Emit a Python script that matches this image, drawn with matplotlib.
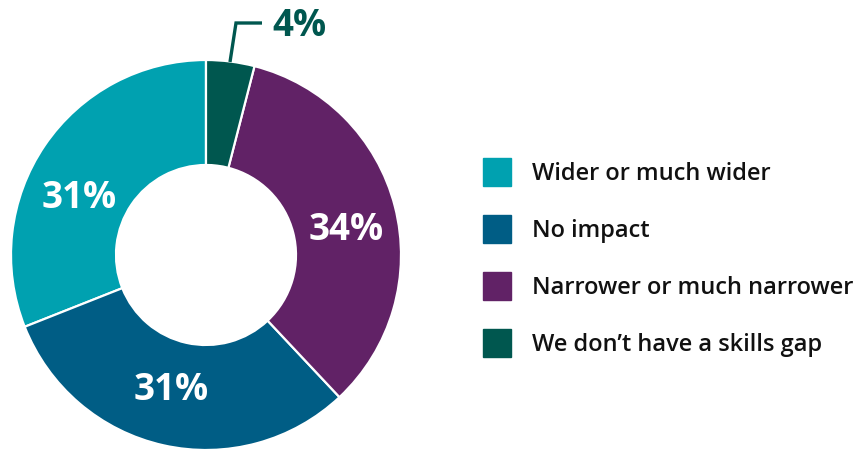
import matplotlib.pyplot as plt
from matplotlib.patches import Rectangle

plt.rcParams['font.family'] = ['Open Sans', 'DejaVu Sans']

labels = ["Wider or much wider", "No impact", "Narrower or much narrower",
          "We don\u2019t have a skills gap"]
values = [31, 31, 34, 4]
colors = ["#00A1B0", "#005D85", "#612266", "#00574F"]

fig = plt.figure(figsize=(8.61, 4.49), dpi=100)
ax = fig.add_axes([0, 0, 1, 1])

wedges, texts, autotexts = ax.pie(
    values, colors=colors, startangle=90, counterclock=True,
    center=(206, 194), radius=195,
    wedgeprops=dict(width=105, edgecolor="white", linewidth=1.6),
    autopct=lambda p: f"{p:.0f}%", pctdistance=0.72,
    textprops=dict(color="white", fontsize=26.5, fontweight="bold"))
ax.set_xlim(0, 861)
ax.set_ylim(0, 449)
ax.set_aspect("equal")
ax.axis("off")

# nudge the inside labels to where they sit in the original
label_pos = [(79, 251), (171, 59), (346, 219)]
for t, pos in zip(autotexts[:3], label_pos):
    t.set_position(pos)
    t.set_ha("center")
    t.set_va("center")
autotexts[3].set_visible(False)

# small slice gets a leader line and outside label
ax.plot([230, 236, 262], [387, 426, 426], color=colors[3], lw=2.4,
        solid_capstyle="butt", solid_joinstyle="miter")
ax.text(272, 423, f"{values[3]}%", color=colors[3], fontsize=26.5,
        fontweight="bold", ha="left", va="center")

# legend
for i, (lab, col) in enumerate(zip(labels, colors)):
    yc = 449 - (172 + 57 * i)
    ax.add_patch(Rectangle((483, yc - 14), 28, 28, color=col))
    ax.text(532, yc - 2, lab, fontsize=17, fontweight="semibold",
            color="#111111", ha="left", va="center")

fig.savefig("out.png", dpi=100)
